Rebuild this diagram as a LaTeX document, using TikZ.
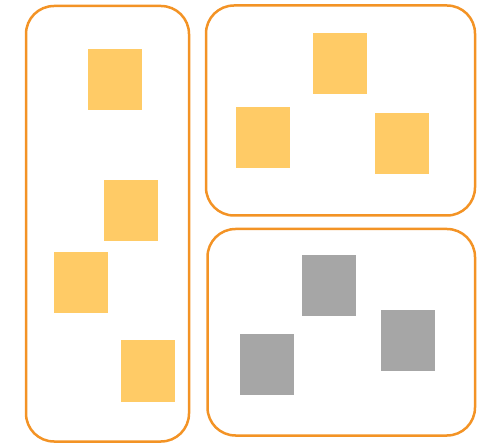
\documentclass[tikz,border=0pt]{standalone}
\definecolor{boxorange}{HTML}{F39325}
\definecolor{tileyellow}{HTML}{FFCB66}
\definecolor{tilegray}{HTML}{A6A6A6}
\begin{document}
\begin{tikzpicture}[x=1pt, y=-1pt,
  group/.style={draw=boxorange, line width=2.5pt, rounded corners=28pt, inner sep=0pt},
  tile/.style={inner sep=0pt, minimum width=54pt, minimum height=61pt},
  ytile/.style={tile, fill=tileyellow},
  gtile/.style={tile, fill=tilegray}]
  \useasboundingbox (0,0) rectangle (479,443);

  \node[group, minimum width=163pt, minimum height=435.5pt] (left) at (107.5,223.75) {};
  \node[group, minimum width=269pt, minimum height=210pt] (topright) at (340.5,110.5) {};
  \node[group, minimum width=267.5pt, minimum height=206.5pt] (botright) at (341.25,332.25) {};

  \node[ytile] (ya) at (115.3,79.8) {};
  \node[ytile] (yb) at (131,210.3) {};
  \node[ytile] (yc) at (81,282.3) {};
  \node[ytile] (yd) at (148.3,371) {};

  \node[ytile] (ye) at (340,63.8) {};
  \node[ytile] (yf) at (262.8,137.3) {};
  \node[ytile] (yg) at (402,143.3) {};

  \node[gtile] (ga) at (328.7,285.7) {};
  \node[gtile] (gb) at (266.5,364.8) {};
  \node[gtile] (gc) at (408,340.7) {};
\end{tikzpicture}
\end{document}
